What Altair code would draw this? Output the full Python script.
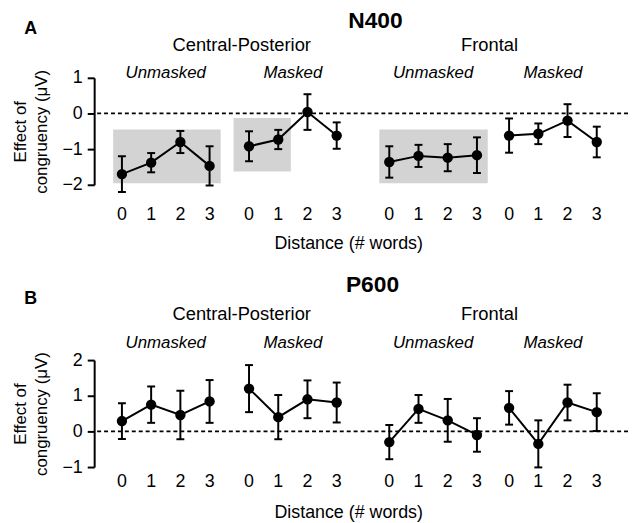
import altair as alt
import pandas as pd

FONT = "Liberation Sans"

# ---------------- data ----------------
distances = [0, 1, 2, 3]
conditions = ["Unmasked", "Masked", "Unmasked", "Masked"]
region_names = ["Central-Posterior", "Frontal"]

# N400 effect of congruency (mean, +/- error) per group (CP-unmasked, CP-masked, F-unmasked, F-masked)
n400_mean = [
    [-1.70, -1.38, -0.80, -1.47],
    [-0.92, -0.73, 0.04, -0.62],
    [-1.36, -1.19, -1.24, -1.17],
    [-0.62, -0.57, -0.20, -0.80],
]
n400_err = [
    [0.50, 0.27, 0.31, 0.55],
    [0.42, 0.27, 0.50, 0.37],
    [0.44, 0.31, 0.38, 0.50],
    [0.48, 0.29, 0.46, 0.43],
]
# P600 effect of congruency
p600_mean = [
    [0.29, 0.75, 0.46, 0.84],
    [1.20, 0.40, 0.90, 0.81],
    [-0.30, 0.63, 0.31, -0.10],
    [0.66, -0.35, 0.81, 0.54],
]
p600_err = [
    [0.50, 0.51, 0.68, 0.60],
    [0.66, 0.62, 0.53, 0.56],
    [0.48, 0.39, 0.60, 0.47],
    [0.47, 0.66, 0.50, 0.53],
]
# shaded (significant) windows in N400 panel: group, distance extent, value extent
box_group = [0, 1, 2]
box_d_from = [-0.30, -0.53, -0.34]
box_d_to = [3.38, 1.43, 3.37]
box_top = [-0.45, -0.13, -0.45]
box_bottom = [-1.96, -1.63, -1.96]

# ---------------- layout ----------------
group_offset = [0.0, 4.35, 9.15, 13.25]
region_x = [4.10, 12.58]
x_domain = [-0.95, 17.32]
W, H = 539, 108

xscale = alt.Scale(domain=x_domain, nice=False, zero=False)


def make_panel(means, errs, y_domain, title, letter, pos, with_boxes):
    rows = []
    for g in range(4):
        for i, d in enumerate(distances):
            m = means[g][i]
            e = errs[g][i]
            rows.append({"group": g, "dist": str(d), "xpos": group_offset[g] + d,
                         "mean": m, "lo": m - e, "hi": m + e})
    df = pd.DataFrame(rows)

    ticks = []
    v = y_domain[0]
    while v <= y_domain[1] + 1e-9:
        ticks.append(round(v, 2))
        v += 0.5
    yscale = alt.Scale(domain=y_domain, nice=False, zero=False)
    yaxis = alt.Axis(
        values=ticks, format="d",
        labelExpr="datum.value % 1 === 0 ? datum.label : ''",
        tickSize={"condition": {"test": "datum.value % 1 === 0", "value": 7}, "value": 4},
        tickWidth=2, domainWidth=2, domainColor="black", tickColor="black",
        labelFont=FONT, labelFontSize=18, labelColor="black", labelPadding=5,
        labelFlush=False, grid=False,
        title=["Effect of", "congruency (μV)"], titleFont=FONT, titleFontSize=17,
        titleFontWeight="normal", titleColor="black", titleLineHeight=21,
        titlePadding=12,
    )
    X = alt.X("xpos:Q", scale=xscale, axis=None)
    base = alt.Chart(df)
    layers = []
    if with_boxes:
        bdf = pd.DataFrame({
            "x0": [group_offset[g] + a for g, a in zip(box_group, box_d_from)],
            "x1": [group_offset[g] + b for g, b in zip(box_group, box_d_to)],
            "top": box_top, "bottom": box_bottom,
        })
        layers.append(alt.Chart(bdf).mark_rect(color="#d3d3d3").encode(
            x=alt.X("x0:Q", scale=xscale, axis=None), x2="x1:Q",
            y=alt.Y("top:Q", scale=yscale, axis=yaxis), y2="bottom:Q"))
    layers.append(alt.Chart(pd.DataFrame({"z": [0]})).mark_rule(
        color="black", strokeDash=[4, 3], strokeWidth=1.8).encode(
        y=alt.Y("z:Q", scale=yscale, axis=yaxis)))
    layers.append(base.mark_rule(color="black", strokeWidth=2).encode(
        x=X, y=alt.Y("lo:Q", scale=yscale, axis=yaxis), y2="hi:Q"))
    for f in ["lo", "hi"]:
        layers.append(base.mark_tick(color="black", orient="horizontal", size=8,
                                     thickness=2, opacity=1).encode(
            x=X, y=alt.Y(f + ":Q", scale=yscale, axis=yaxis)))
    layers.append(base.mark_line(color="black", strokeWidth=2).encode(
        x=X, y=alt.Y("mean:Q", scale=yscale, axis=yaxis), detail="group:N"))
    layers.append(base.mark_circle(color="black", size=110, opacity=1).encode(
        x=X, y=alt.Y("mean:Q", scale=yscale, axis=yaxis)))

    # x tick labels (distance)
    layers.append(base.mark_text(font=FONT, fontSize=18, color="black",
                                 baseline="middle").encode(
        x=X, y=alt.value(pos["tick"]), text="dist:N"))
    # condition labels
    cdf = pd.DataFrame({"xpos": [o + 1.5 for o in group_offset], "t": conditions})
    layers.append(alt.Chart(cdf).mark_text(font=FONT, fontSize=17, fontStyle="italic",
                                           color="black", baseline="middle").encode(
        x=X, y=alt.value(pos["cond"]), text="t:N"))
    # region labels
    rdf = pd.DataFrame({"xpos": region_x, "t": region_names})
    layers.append(alt.Chart(rdf).mark_text(font=FONT, fontSize=18.5, color="black",
                                           baseline="middle").encode(
        x=X, y=alt.value(pos["region"]), text="t:N"))
    # axis title, panel title, panel letter
    tdf = pd.DataFrame({"t": ["Distance (# words)"]})
    layers.append(alt.Chart(tdf).mark_text(font=FONT, fontSize=18, color="black",
                                           baseline="middle").encode(
        x=alt.value(257), y=alt.value(pos["xtitle"]), text="t:N"))
    ttl = pd.DataFrame({"t": [title]})
    layers.append(alt.Chart(ttl).mark_text(font=FONT, fontSize=23, fontWeight="bold",
                                           color="black", baseline="middle").encode(
        x=alt.value(pos["title_x"]), y=alt.value(pos["title"]), text="t:N"))
    ldf = pd.DataFrame({"t": [letter]})
    layers.append(alt.Chart(ldf).mark_text(font=FONT, fontSize=18, fontWeight="bold",
                                           color="black", baseline="middle").encode(
        x=alt.value(-64), y=alt.value(pos["letter"]), text="t:N"))
    return alt.layer(*layers).properties(width=W, height=H)


panel_a = make_panel(n400_mean, n400_err, [-2, 1], "N400", "A",
                     {"tick": H + 31, "cond": -5, "region": -33, "xtitle": H + 60,
                      "title": -57, "title_x": 284, "letter": -49}, True)
panel_b = make_panel(p600_mean, p600_err, [-1, 2], "P600", "B",
                     {"tick": H + 15, "cond": -17.5, "region": -46.5, "xtitle": H + 46,
                      "title": -75.5, "title_x": 281, "letter": -62}, False)

chart = alt.vconcat(panel_a, panel_b, spacing=177, bounds="flush").properties(
    padding={"left": 3, "top": 0, "right": 0, "bottom": 0},
    background="white",
).configure_view(stroke=None)

chart.save("out.html", embed_options={"renderer": "svg", "actions": False})
